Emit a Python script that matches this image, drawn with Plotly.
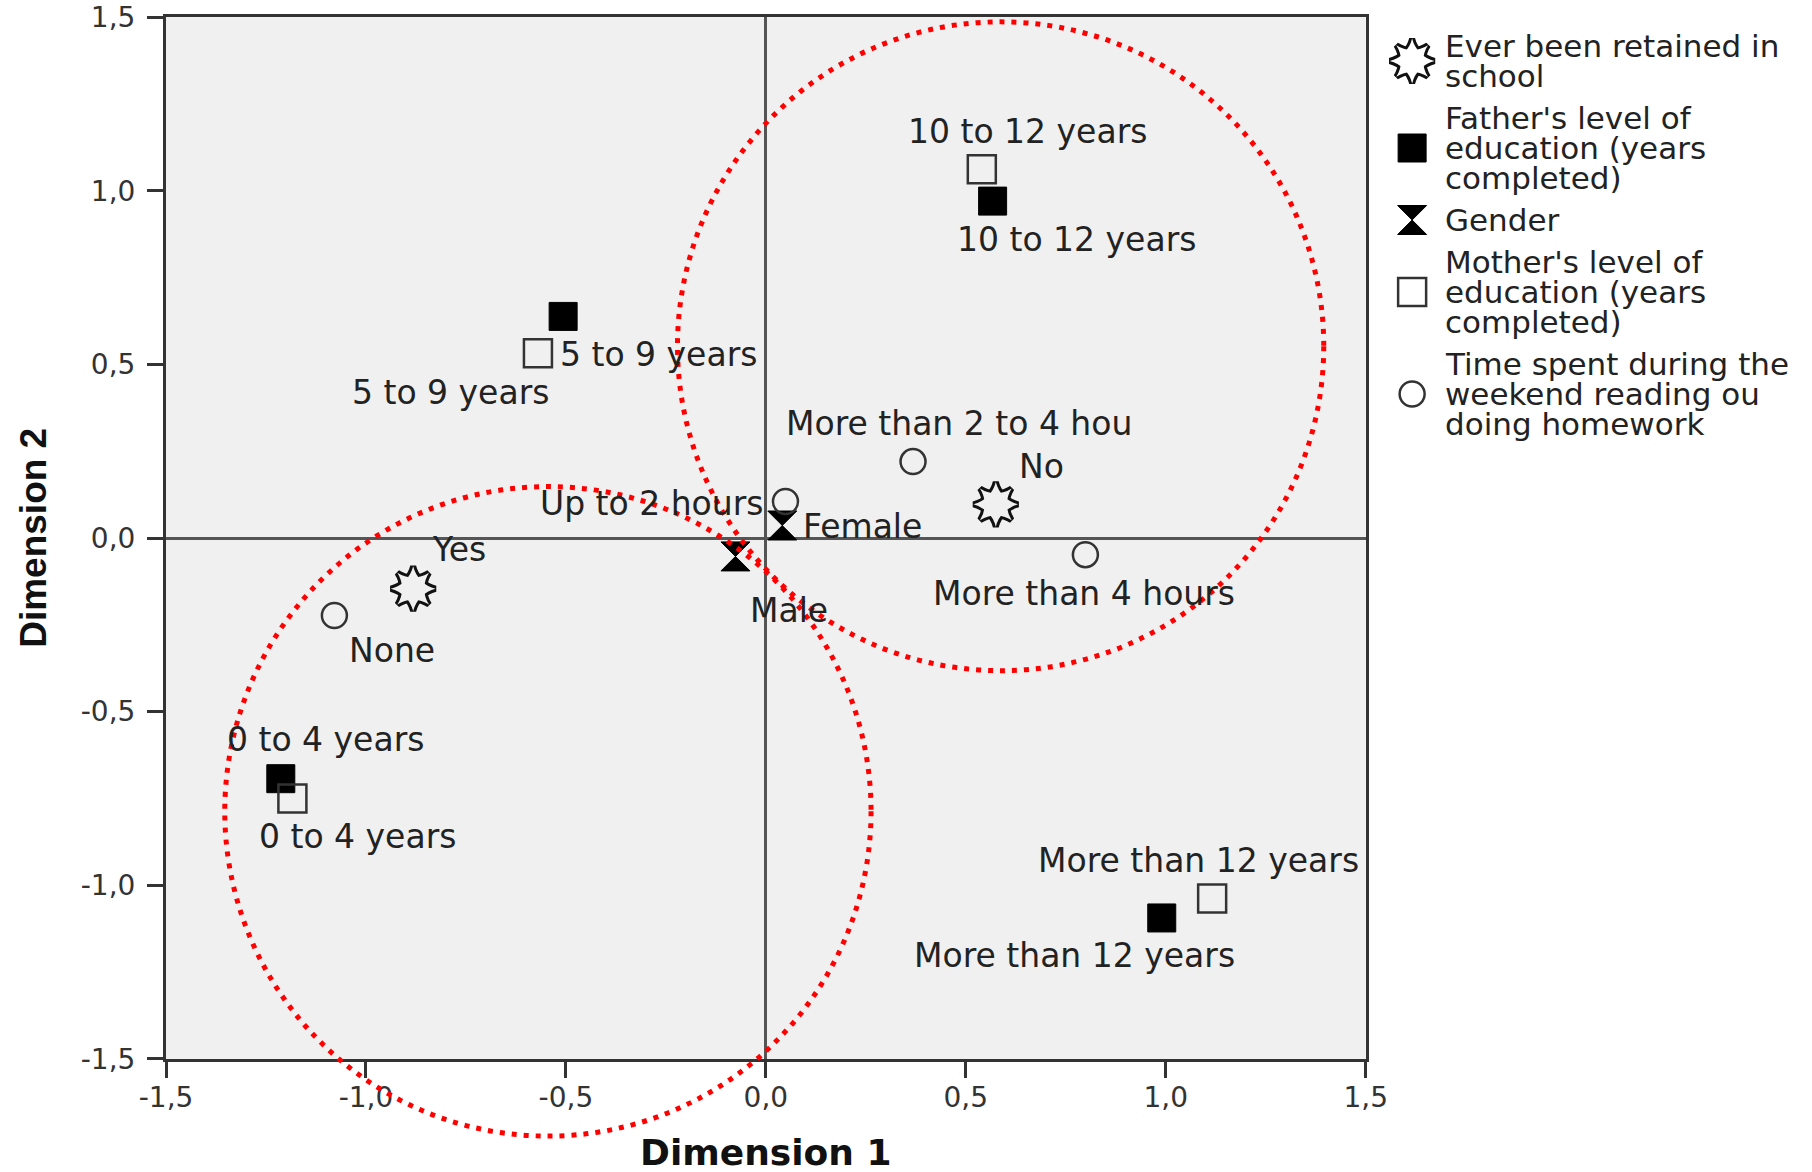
import plotly.graph_objects as go

# ---------------- data ----------------
retained_labels = ["Yes", "No"]
retained_x = [-0.882, 0.575]
retained_y = [-0.146, 0.097]

father_labels = ["0 to 4 years", "5 to 9 years", "10 to 12 years", "More than 12 years"]
father_x = [-1.213, -0.507, 0.567, 0.990]
father_y = [-0.693, 0.638, 0.970, -1.094]

gender_labels = ["Female", "Male"]
gender_x = [0.041, -0.076]
gender_y = [0.036, -0.053]

mother_labels = ["0 to 4 years", "5 to 9 years", "10 to 12 years", "More than 12 years"]
mother_x = [-1.184, -0.570, 0.540, 1.116]
mother_y = [-0.750, 0.532, 1.062, -1.038]

time_labels = ["None", "Up to 2 hours", "More than 2 to 4 hou", "More than 4 hours"]
time_x = [-1.079, 0.049, 0.368, 0.799]
time_y = [-0.223, 0.105, 0.220, -0.048]

legend_lines = [
    ["Ever been retained in", "school"],
    ["Father's level of", "education (years", "completed)"],
    ["Gender"],
    ["Mother's level of", "education (years", "completed)"],
    ["Time spent during the", "weekend reading ou", "doing homework"],
]

tick_vals = [-1.5, -1.0, -0.5, 0.0, 0.5, 1.0, 1.5]
tick_text = ["-1,5", "-1,0", "-0,5", "0,0", "0,5", "1,0", "1,5"]

x_title = "Dimension 1"
y_title = "Dimension 2"

# ---------------- layout / style settings ----------------
W, H = 1812, 1172
PLOT_L, PLOT_R, PLOT_T, PLOT_B = 166, 1382, 17, 1059   # plot area edges in page pixels
ML, MR = PLOT_L, 0
MT = PLOT_T
MB = H - PLOT_B
PAPER_W = W - ML - MR
PAPER_H = H - MT - MB
XD = (PLOT_R - PLOT_L) / PAPER_W
RNG = [-1.5, 1.5]
BG = "#f0f0f0"
INK = "#222222"
LABEL_FONT = dict(family="DejaVu Sans", size=33, color=INK)
LEG_FONT = dict(family="DejaVu Sans", size=31, color=INK)

# label offsets in pixels (xshift, yshift) for each point label
retained_off = [(46, 39), (46, 38)]
father_off = [(45, 39), (95, -38), (84, -38), (-87, -38)]
gender_off = [(80, -1), (54, -54)]
mother_off = [(65, -38), (-87, -39), (46, 38), (-14, 38)]
time_off = [(58, -35), (-134, -2), (46, 38), (-1, -39)]

# red dotted circles, given in data units (x0, x1, y0, y1)
circles = [(-0.221, 1.395, -0.382, 1.486), (-1.353, 0.263, -1.722, 0.148)]


def xp(d):
    return (d - RNG[0]) / (RNG[1] - RNG[0]) * XD


def yp(d):
    return (d - RNG[0]) / (RNG[1] - RNG[0])


def page_to_paper_x(px):
    return (px - ML) / PAPER_W


def page_to_paper_y(py):
    return (H - MB - py) / PAPER_H


fig = go.Figure()

STAR = 32


def add_star(xs, ys, fill, xaxis="x", yaxis="y", size=STAR):
    n = len(xs)
    sym = ["star-square"] * n + ["star-diamond"] * n
    sz = [size * 0.9] * n + [size] * n
    fig.add_trace(go.Scatter(x=list(xs) * 2, y=list(ys) * 2, mode="markers", xaxis=xaxis, yaxis=yaxis,
                             marker=dict(symbol=sym, size=sz, color="#111", opacity=1,
                                         line=dict(color="#111", width=6)),
                             hoverinfo="skip", showlegend=False, cliponaxis=False))
    fig.add_trace(go.Scatter(x=list(xs) * 2, y=list(ys) * 2, mode="markers", xaxis=xaxis, yaxis=yaxis,
                             marker=dict(symbol=sym, size=sz, color=fill, opacity=1,
                                         line=dict(width=0)),
                             hoverinfo="skip", showlegend=False, cliponaxis=False))


def series_styles():
    return [
        dict(symbol="square", size=28, color="#000", opacity=1, line=dict(color="#000", width=1)),
        dict(symbol="hourglass", size=29, color="#000", opacity=1, line=dict(color="#000", width=1)),
        dict(symbol="square-open", size=28, color="#333", opacity=1, line=dict(color="#333", width=2.5)),
        dict(symbol="circle-open", size=25, color="#333", opacity=1, line=dict(color="#333", width=2.5)),
    ]


# main plot
add_star(retained_x, retained_y, BG)
for (xs, ys), st in zip([(father_x, father_y), (gender_x, gender_y),
                          (mother_x, mother_y), (time_x, time_y)], series_styles()):
    fig.add_trace(go.Scatter(x=xs, y=ys, mode="markers", marker=st,
                             hoverinfo="skip", showlegend=False))

annotations = []
for labels, xs, ys, offs in [
    (retained_labels, retained_x, retained_y, retained_off),
    (father_labels, father_x, father_y, father_off),
    (gender_labels, gender_x, gender_y, gender_off),
    (mother_labels, mother_x, mother_y, mother_off),
    (time_labels, time_x, time_y, time_off),
]:
    for t, x, y, (dx, dy) in zip(labels, xs, ys, offs):
        annotations.append(dict(x=x, y=y, xref="x", yref="y", text=t, showarrow=False,
                                xanchor="center", yanchor="middle", xshift=dx, yshift=dy,
                                font=LABEL_FONT))

# custom legend in a second (invisible) subplot scaled in page pixels
LX0 = 1398
X2D0 = page_to_paper_x(LX0)
LEG_MARK_X = 1429
LEG_TEXT_X = 1460
LINE_PITCH = 30
ITEM_GAP = 42
y_cur = 46
leg_centers = []
for lines in legend_lines:
    ys_lines = [y_cur + i * LINE_PITCH for i in range(len(lines))]
    for t, yy in zip(lines, ys_lines):
        annotations.append(dict(x=LEG_TEXT_X, y=yy, xref="x2", yref="y2", text=t, showarrow=False,
                                xanchor="left", yanchor="middle", font=LEG_FONT))
    leg_centers.append(sum(ys_lines) / len(ys_lines))
    y_cur = ys_lines[-1] + ITEM_GAP

add_star([LEG_MARK_X], [leg_centers[0]], "white", "x2", "y2", size=32)
for yc, st in zip(leg_centers[1:], series_styles()):
    fig.add_trace(go.Scatter(x=[LEG_MARK_X], y=[yc], mode="markers", marker=st,
                             xaxis="x2", yaxis="y2", hoverinfo="skip", showlegend=False))

# axis titles
annotations.append(dict(x=xp(0), y=page_to_paper_y(1152), xref="paper", yref="paper",
                        text="<b>%s</b>" % x_title, showarrow=False, xanchor="center", yanchor="middle",
                        font=dict(family="DejaVu Sans", size=36, color="#111")))
annotations.append(dict(x=page_to_paper_x(31), y=0.5, xref="paper", yref="paper",
                        text="<b>%s</b>" % y_title, showarrow=False, xanchor="center", yanchor="middle",
                        textangle=-90,
                        font=dict(family="Liberation Sans", size=37, color="#111")))

shapes = [dict(type="rect", xref="x domain", yref="y domain", x0=0, x1=1, y0=0, y1=1,
               fillcolor=BG, line=dict(width=0), layer="below")]
for (cx0, cx1, cy0, cy1) in circles:
    shapes.append(dict(type="circle", xref="paper", yref="paper",
                       x0=xp(cx0), x1=xp(cx1), y0=yp(cy0), y1=yp(cy1),
                       line=dict(color="#ff0000", width=5, dash="5px,7px"), layer="above"))

axis_common = dict(range=[RNG[0] - 1e-4, RNG[1] + 1e-4], tickvals=tick_vals, ticktext=tick_text,
                   ticks="outside", ticklen=16, tickwidth=3, tickcolor="#333",
                   showline=True, mirror=True, linecolor="#333", linewidth=3,
                   zeroline=True, zerolinecolor="#555", zerolinewidth=2.5, showgrid=False,
                   ticklabeloverflow="allow",
                   tickfont=dict(family="DejaVu Sans", size=28, color="#333"), fixedrange=True)

fig.update_layout(
    width=W, height=H, autosize=False,
    margin=dict(l=ML, r=MR, t=MT, b=MB, pad=0),
    paper_bgcolor="white", plot_bgcolor="white",
    showlegend=False,
    xaxis=dict(domain=[0, XD], anchor="y", ticklabelstandoff=-5, **axis_common),
    yaxis=dict(domain=[0, 1], anchor="x", ticklabelstandoff=6, **axis_common),
    xaxis2=dict(domain=[X2D0, 1], anchor="y2", range=[LX0, W], visible=False, fixedrange=True),
    yaxis2=dict(domain=[0, 1], anchor="x2", range=[PLOT_B, PLOT_T], visible=False, fixedrange=True),
    annotations=annotations,
    shapes=shapes,
)

fig.write_html("out.html", config={"displayModeBar": False},
               post_script="document.body.style.margin='0px';document.body.style.overflow='hidden';")
